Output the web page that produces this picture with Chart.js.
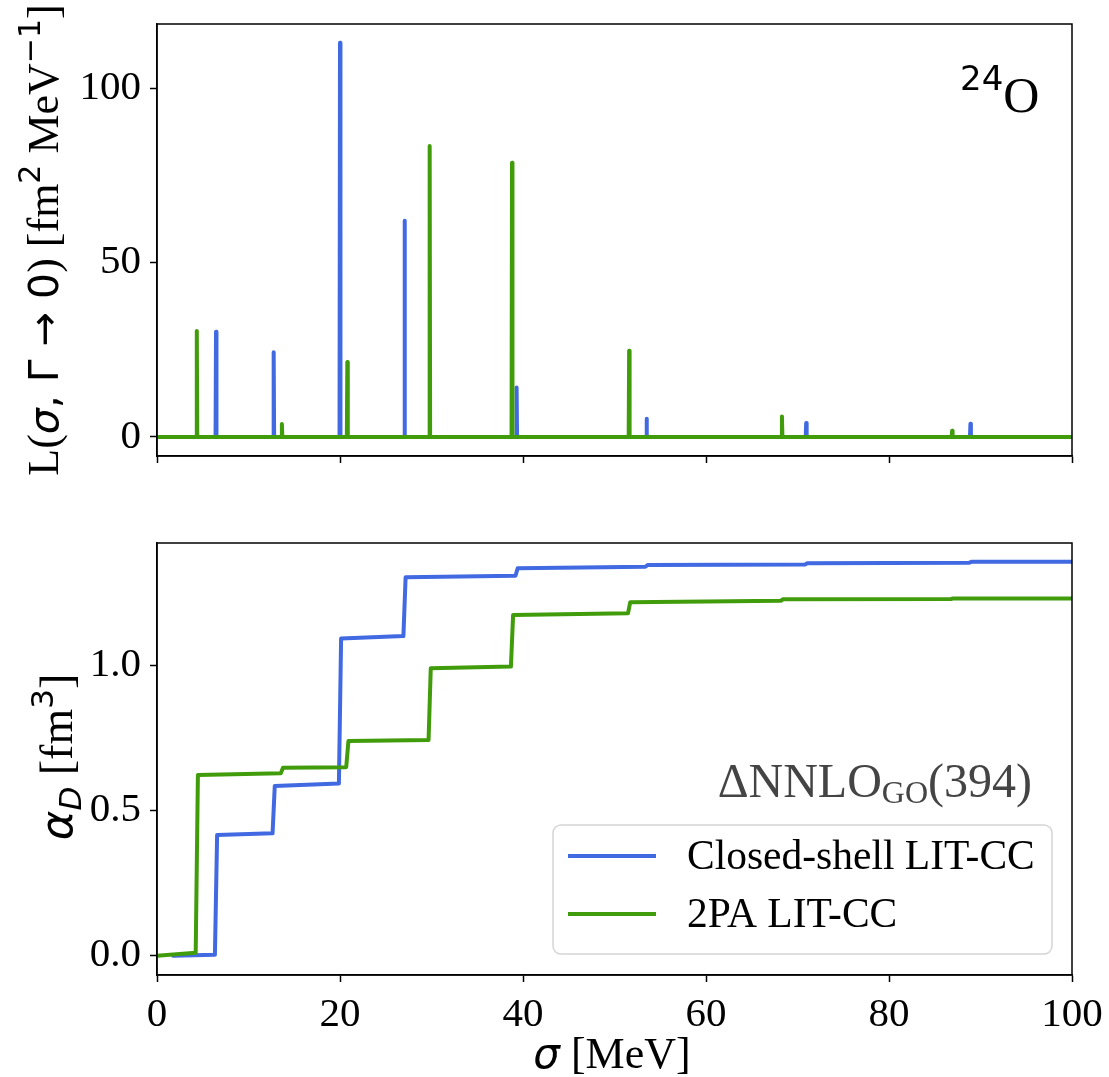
<!DOCTYPE html>
<html>
<head>
<meta charset="utf-8">
<script src="https://cdn.jsdelivr.net/npm/chart.js@4.4.1/dist/chart.umd.min.js"></script>
<style>
  html, body { margin: 0; padding: 0; background: #fff; }
  #wrap { position: relative; width: 1109px; height: 1077px; overflow: hidden; }
  #topChart { position: absolute; left: 0; top: 0; }
  #bottomChart { position: absolute; left: 0; top: 500px; }
</style>
</head>
<body>
<div id="wrap">
  <canvas id="topChart" width="1109" height="500"></canvas>
  <canvas id="bottomChart" width="1109" height="577"></canvas>
</div>
<script>
// x ticks / y ticks
const xTicks = [0, 20, 40, 60, 80, 100];
const topYTicks = [0, 50, 100];
const bottomYTicks = [0, 0.5, 1.0];

// peak positions (MeV) and strengths
const blueEnergies = [6.45, 12.75, 20.0, 27.05, 39.3, 53.5, 70.95, 88.9];
const blueStrengths = [30.2, 24.3, 113.0, 62.0, 14.2, 5.2, 4.0, 3.8];
const greenEnergies = [4.35, 13.65, 20.8, 29.8, 38.8, 51.6, 68.3, 86.9];
const greenStrengths = [30.4, 3.7, 21.5, 83.4, 78.6, 24.7, 5.9, 1.8];

// cumulative alpha_D just before / after each step
const blueStart = [1.75, 0.0];
const blueBefore = [0.003, 0.422, 0.594, 1.102, 1.310, 1.341, 1.349, 1.355];
const blueAfter = [0.416, 0.585, 1.094, 1.305, 1.336, 1.347, 1.353, 1.358];
const blueEnd = [100, 1.358];
const greenStart = [0, 0.0];
const greenBefore = [0.010, 0.629, 0.650, 0.744, 0.997, 1.181, 1.224, 1.230];
const greenAfter = [0.623, 0.648, 0.740, 0.991, 1.175, 1.219, 1.229, 1.232];
const greenEnd = [100, 1.232];

const seriesLabels = ["Closed-shell LIT-CC", "2PA LIT-CC"];
const blue = "#4169e1";
const green = "#419c0c";
const SERIF = "'Liberation Serif', 'Times New Roman', serif";
const SANS = "'DejaVu Sans', sans-serif";

function peakSeries(energies, heights) {
  var pts = [{ x: 0, y: 0 }];
  for (var i = 0; i < energies.length; i++) {
    pts.push({ x: energies[i] - 0.05, y: 0 });
    pts.push({ x: energies[i], y: heights[i] });
    pts.push({ x: energies[i] + 0.05, y: 0 });
  }
  pts.push({ x: 100, y: 0 });
  return pts;
}

function stepSeries(start, energies, before, after, end) {
  var pts = [{ x: start[0], y: start[1] }];
  for (var i = 0; i < energies.length; i++) {
    pts.push({ x: energies[i] - 0.12, y: before[i] });
    pts.push({ x: energies[i] + 0.12, y: after[i] });
  }
  pts.push({ x: end[0], y: end[1] });
  return pts;
}

// draws a row of text runs with different fonts (for sub/superscripts)
function drawRuns(ctx, runs, x, y, align) {
  var total = 0;
  runs.forEach(function (r) {
    ctx.font = r.font;
    r.w = ctx.measureText(r.t).width;
    total += r.w;
  });
  var cx = align === "center" ? x - total / 2 : align === "right" ? x - total : x;
  ctx.textBaseline = "alphabetic";
  ctx.textAlign = "left";
  runs.forEach(function (r) {
    ctx.font = r.font;
    ctx.fillText(r.t, cx, y + (r.dy || 0));
    cx += r.w;
  });
}

function drawRotated(ctx, runs, cx, cy) {
  ctx.save();
  ctx.translate(cx, cy);
  ctx.rotate(-Math.PI / 2);
  ctx.fillStyle = "#000";
  drawRuns(ctx, runs, 0, 0, "center");
  ctx.restore();
}

const framePlugin = {
  id: "frame",
  afterDraw: function (chart) {
    var a = chart.chartArea;
    var ctx = chart.ctx;
    ctx.save();
    ctx.strokeStyle = "#000";
    ctx.lineWidth = 1.5;
    ctx.strokeRect(a.left, a.top, a.right - a.left, a.bottom - a.top);
    ctx.restore();
  },
};

function axisOpts(ticksArr, min, max, showLabels, fmt, size) {
  return {
    type: "linear",
    min: min,
    max: max,
    afterBuildTicks: function (axis) {
      axis.ticks = ticksArr.map(function (v) { return { value: v }; });
    },
    afterFit: function (axis) {
      if (axis.isHorizontal()) axis.height = size;
      else axis.width = size;
      // keep the plot area where the layout padding puts it
      axis.paddingTop = 0;
      axis.paddingBottom = 0;
      axis.paddingLeft = 0;
      axis.paddingRight = 0;
    },
    grid: { drawOnChartArea: false, tickLength: 7, tickWidth: 1.5, tickColor: "#000" },
    border: { display: true, color: "#000", width: 1.5 },
    ticks: {
      display: showLabels,
      color: "#000",
      padding: 9,
      font: { family: SERIF, size: 41 },
      callback: fmt || function (v) { return v; },
    },
  };
}

function lineSet(label, data, color, order) {
  return {
    label: label,
    data: data,
    borderColor: color,
    backgroundColor: color,
    borderWidth: 4,
    pointRadius: 0,
    tension: 0,
    borderJoinStyle: "round",
    borderCapStyle: "round",
    order: order,
  };
}

// top panel: strength function
new Chart(document.getElementById("topChart"), {
  type: "line",
  data: {
    datasets: [
      lineSet(seriesLabels[0], peakSeries(blueEnergies, blueStrengths), blue, 1),
      lineSet(seriesLabels[1], peakSeries(greenEnergies, greenStrengths), green, 0),
    ],
  },
  options: {
    responsive: false,
    animation: false,
    layout: { padding: { top: 24, right: 37, left: 0, bottom: 0 } },
    plugins: { legend: { display: false }, tooltip: { enabled: false } },
    scales: {
      x: axisOpts(xTicks, 0, 100, false, null, 44),
      y: axisOpts(topYTicks, -5.45, 118.4, true, null, 157),
    },
  },
  plugins: [
    framePlugin,
    {
      id: "topText",
      afterDraw: function (chart) {
        var ctx = chart.ctx;
        drawRotated(ctx, [
          { t: "L(", font: "44px " + SERIF },
          { t: "σ", font: "italic 41px " + SANS },
          { t: ", Γ → 0", font: "41px " + SANS },
          { t: ") [fm", font: "44px " + SERIF },
          { t: "2", font: "30px " + SANS, dy: -18 },
          { t: " MeV", font: "44px " + SERIF },
          { t: "−1", font: "30px " + SANS, dy: -18 },
          { t: "]", font: "44px " + SERIF },
        ], 58, 240);
        ctx.save();
        ctx.fillStyle = "#000";
        drawRuns(ctx, [
          { t: "24", font: "34px " + SANS, dy: -22 },
          { t: "O", font: "50px " + SERIF },
        ], 960, 112, "left");
        ctx.restore();
      },
    },
  ],
});

// bottom panel: running sum alpha_D
new Chart(document.getElementById("bottomChart"), {
  type: "line",
  data: {
    datasets: [
      lineSet(seriesLabels[0], stepSeries(blueStart, blueEnergies, blueBefore, blueAfter, blueEnd), blue, 1),
      lineSet(seriesLabels[1], stepSeries(greenStart, greenEnergies, greenBefore, greenAfter, greenEnd), green, 0),
    ],
  },
  options: {
    responsive: false,
    animation: false,
    layout: { padding: { top: 43, right: 37, left: 0, bottom: 0 } },
    plugins: { legend: { display: false }, tooltip: { enabled: false } },
    scales: {
      x: axisOpts(xTicks, 0, 100, true, null, 102),
      y: axisOpts(bottomYTicks, -0.0666, 1.423, true, function (v) { return v.toFixed(1); }, 157),
    },
  },
  plugins: [
    framePlugin,
    {
      id: "bottomText",
      afterDraw: function (chart) {
        var ctx = chart.ctx;
        drawRotated(ctx, [
          { t: "α", font: "italic 45px " + SANS },
          { t: "D", font: "italic 31px " + SANS, dy: 9 },
          { t: " [fm", font: "46px " + SERIF },
          { t: "3", font: "31px " + SANS, dy: -19 },
          { t: "]", font: "46px " + SERIF },
        ], 72, 257);
        ctx.save();
        ctx.fillStyle = "#000";
        drawRuns(ctx, [
          { t: "σ", font: "italic 42px " + SANS },
          { t: " [MeV]", font: "44px " + SERIF },
        ], 612, 568, "center");

        // model name
        ctx.fillStyle = "#444";
        drawRuns(ctx, [
          { t: "ΔNNLO", font: "48px " + SERIF },
          { t: "GO", font: "32px " + SERIF, dy: 6 },
          { t: "(394)", font: "48px " + SERIF },
        ], 1032, 297, "right");

        // legend box
        var lx = 553, ly = 325, lw = 499, lh = 129, r = 8;
        ctx.beginPath();
        ctx.moveTo(lx + r, ly);
        ctx.arcTo(lx + lw, ly, lx + lw, ly + lh, r);
        ctx.arcTo(lx + lw, ly + lh, lx, ly + lh, r);
        ctx.arcTo(lx, ly + lh, lx, ly, r);
        ctx.arcTo(lx, ly, lx + lw, ly, r);
        ctx.closePath();
        ctx.fillStyle = "rgba(255,255,255,0.8)";
        ctx.fill();
        ctx.strokeStyle = "#d5d5d5";
        ctx.lineWidth = 1.5;
        ctx.stroke();
        var rows = [356, 414];
        chart.data.datasets.forEach(function (ds, i) {
          ctx.strokeStyle = ds.borderColor;
          ctx.lineWidth = 4;
          ctx.beginPath();
          ctx.moveTo(568, rows[i]);
          ctx.lineTo(656, rows[i]);
          ctx.stroke();
          ctx.fillStyle = "#000";
          drawRuns(ctx, [{ t: ds.label, font: "41.5px " + SERIF }], 687, rows[i] + 13, "left");
        });
        ctx.restore();
      },
    },
  ],
});
</script>
</body>
</html>
